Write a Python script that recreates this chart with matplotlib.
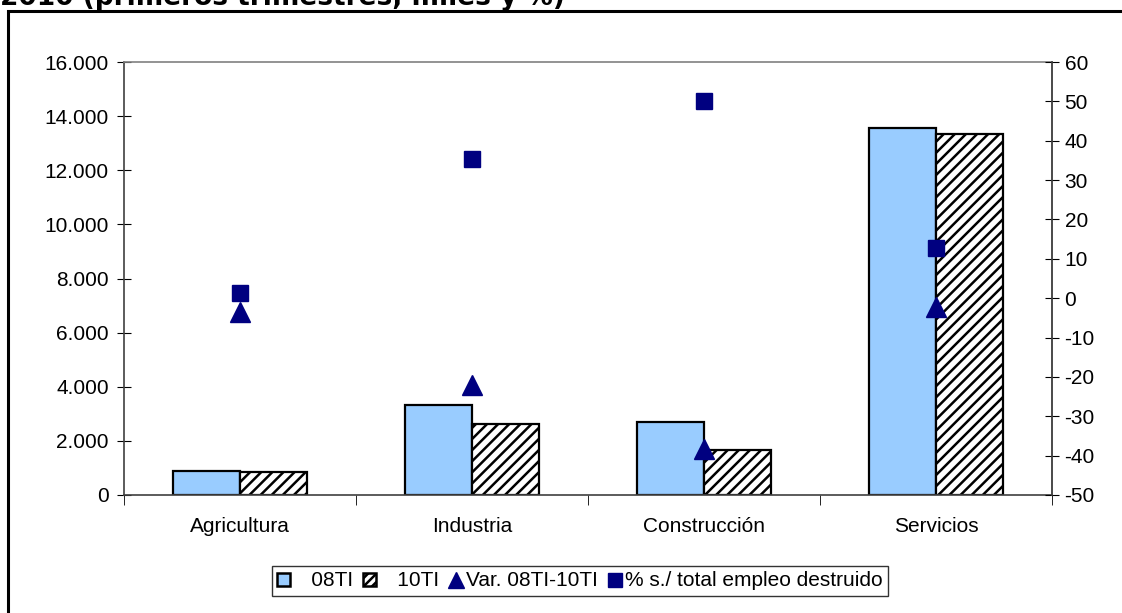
import numpy as np
import matplotlib
matplotlib.use("Agg")
import matplotlib.pyplot as plt
from matplotlib.patches import Rectangle, Patch
from matplotlib.lines import Line2D
from matplotlib.ticker import FuncFormatter

# data (miles de ocupados, %)
sectores = ["Agricultura", "Industria", "Construcción", "Servicios"]
ocup_08 = [880, 3320, 2690, 13560]
ocup_10 = [850, 2620, 1660, 13340]
var_08_10 = [-3.6, -22.0, -38.2, -2.3]
pct_destruido = [1.2, 35.4, 50.0, 12.7]

title = "2010 (primeros trimestres, miles y %)"
left_ticks = [0, 2000, 4000, 6000, 8000, 10000, 12000, 14000, 16000]
right_ticks = [-50, -40, -30, -20, -10, 0, 10, 20, 30, 40, 50, 60]

plt.rcParams['font.family'] = ['Liberation Sans', 'DejaVu Sans']
plt.rcParams['hatch.linewidth'] = 1.8
plt.rcParams['axes.unicode_minus'] = False

W, H = 1122, 613
fig = plt.figure(figsize=(W / 100, H / 100), dpi=100)

# outer chart frame (cut at right/bottom)
fig.patches.append(Rectangle((8 / W, -0.1), 1.2, 1 - 11 / H + 0.1, transform=fig.transFigure,
                             fill=False, edgecolor='black', linewidth=2.2))
fig.text(0.0, 1 - 5 / H, title, fontsize=19, fontweight='bold',
         family='DejaVu Sans', va='baseline', ha='left')

ax = fig.add_axes([124 / W, 1 - 495 / H, (1052 - 124) / W, (495 - 62) / H])
x = np.arange(len(sectores))
bw = 0.29
ax.bar(x - bw / 2, ocup_08, bw, color='#99ccff', edgecolor='black', linewidth=1.6, zorder=2)
ax.bar(x + bw / 2, ocup_10, bw, color='white', edgecolor='black', hatch='///', linewidth=1.6, zorder=2)
ax.set_xlim(-0.5, len(sectores) - 0.5)
ax.set_ylim(0, 16000)
ax.set_yticks(left_ticks)
ax.yaxis.set_major_formatter(FuncFormatter(lambda v, p: f"{int(v):,}".replace(",", ".")))
ax.set_xticks(x)
ax.set_xticklabels(sectores)
ax.set_xticks(np.arange(-0.5, len(sectores)), minor=True)
ax.tick_params(axis='x', which='major', length=0, pad=16, labelsize=15)
ax.tick_params(axis='x', which='minor', length=7, direction='out', color='black')
ax.tick_params(axis='y', direction='inout', length=10, labelsize=15, pad=6)
for s in ['top', 'right']:
    ax.spines[s].set_color('#808080')
ax.spines['left'].set_color('#404040')
ax.spines['bottom'].set_color('#404040')
for s in ax.spines.values():
    s.set_linewidth(1.2)

ax2 = ax.twinx()
ax2.set_ylim(-50, 60)
ax2.set_yticks(right_ticks)
ax2.tick_params(axis='y', direction='inout', length=10, labelsize=15, pad=4)
ax2.spines['right'].set_color('#404040')
ax2.spines['right'].set_linewidth(1.2)
for s in ['top', 'left', 'bottom']:
    ax2.spines[s].set_visible(False)
ax2.plot(x, var_08_10, linestyle='none', marker='^', markersize=15, color='#000080', zorder=3)
ax2.plot(x, pct_destruido, linestyle='none', marker='s', markersize=11, color='#000080', zorder=3)

handles = [
    Patch(facecolor='#99ccff', edgecolor='black', linewidth=1.8),
    Patch(facecolor='white', edgecolor='black', hatch='////', linewidth=1.8),
    Line2D([], [], linestyle='none', marker='^', markersize=12, color='#000080'),
    Line2D([], [], linestyle='none', marker='s', markersize=10, color='#000080'),
]
labels = ["   08TI", "   10TI", "Var. 08TI-10TI", "% s./ total empleo destruido"]
leg = fig.legend(handles, labels, loc='center', bbox_to_anchor=(580 / W, 1 - 581 / H), ncol=4,
                 frameon=True, fancybox=False, edgecolor='black', fontsize=15,
                 handlelength=0.6, handleheight=0.6, handletextpad=0.2, columnspacing=0.5,
                 borderpad=0.25)
leg.get_frame().set_linewidth(1.0)

fig.savefig("out.png", dpi=100)
